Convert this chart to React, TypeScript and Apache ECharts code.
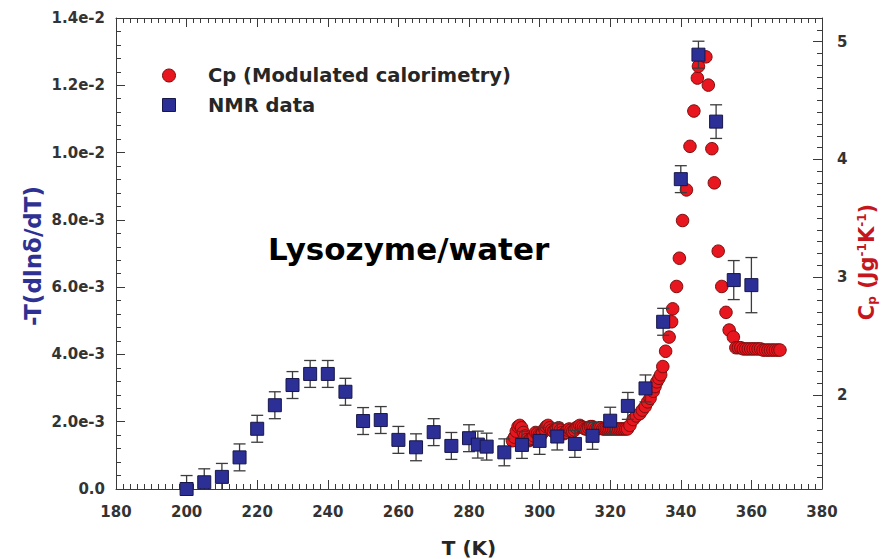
import React, { useEffect, useRef } from "react";
import * as echarts from "echarts";

// NMR data: temperature (K), -T(dlnδ/dT) value, error half-width
const nmrT = [200, 205, 210, 215, 220, 225, 230, 235, 240, 245, 250, 255, 260, 265, 270, 275, 280, 282.5, 285, 290, 295, 300, 305, 310, 315, 320, 325, 330, 335, 340, 345, 350, 355, 360];
const nmrV = [0.0, 0.0002, 0.00036, 0.00094, 0.00179, 0.00249, 0.00309, 0.00342, 0.00342, 0.00289, 0.00202, 0.00205, 0.00146, 0.00124, 0.00169, 0.00128, 0.00151, 0.00132, 0.00126, 0.00109, 0.00131, 0.00143, 0.00156, 0.00134, 0.00158, 0.00203, 0.00247, 0.00299, 0.00497, 0.00921, 0.01291, 0.01092, 0.00621, 0.00606];
const nmrErr = [0.0004, 0.0004, 0.0004, 0.0004, 0.0004, 0.0004, 0.0004, 0.0004, 0.0004, 0.0004, 0.0004, 0.0004, 0.0004, 0.0004, 0.0004, 0.0004, 0.0004, 0.0004, 0.0004, 0.0004, 0.0004, 0.0004, 0.0004, 0.0004, 0.0004, 0.0004, 0.0004, 0.0004, 0.0004, 0.0004, 0.0004, 0.0005, 0.00058, 0.00082];

// Cp (modulated calorimetry): [T (K), Cp (J g^-1 K^-1)]
const cpData: [number, number][] = [
  [292.3, 1.61], [292.9, 1.64], [293.4, 1.69], [293.9, 1.73], [294.4, 1.74], [294.9, 1.72], [295.4, 1.68], [295.9, 1.65],
  [296.4, 1.62], [296.9, 1.61], [297.4, 1.62], [297.9, 1.63], [298.4, 1.65], [298.9, 1.68], [299.4, 1.67], [299.9, 1.66],
  [300.4, 1.66], [300.9, 1.68], [301.4, 1.71], [301.9, 1.73], [302.4, 1.74], [302.9, 1.72], [303.4, 1.70], [303.9, 1.69],
  [304.4, 1.70], [304.9, 1.71], [305.4, 1.72], [305.9, 1.70], [306.4, 1.68], [306.9, 1.67], [307.4, 1.68], [307.9, 1.70],
  [308.4, 1.71], [308.9, 1.70], [309.4, 1.69], [309.9, 1.70], [310.4, 1.72], [310.9, 1.73], [311.4, 1.74], [311.9, 1.73],
  [312.4, 1.72], [312.9, 1.71], [313.4, 1.71], [313.9, 1.72], [314.4, 1.73], [314.9, 1.73], [315.4, 1.72], [315.9, 1.71],
  [316.4, 1.71], [316.9, 1.72], [317.4, 1.72], [317.9, 1.71], [318.4, 1.71], [318.9, 1.71], [319.4, 1.71], [319.9, 1.71],
  [320.4, 1.71], [320.9, 1.71], [321.4, 1.71], [321.9, 1.71], [322.4, 1.71], [322.9, 1.71], [323.4, 1.71], [323.9, 1.71],
  [324.4, 1.71], [324.9, 1.71], [325.6, 1.74], [326.5, 1.79], [327.4, 1.82], [328.4, 1.84], [329.1, 1.87], [329.9, 1.90],
  [330.6, 1.94], [331.3, 1.97], [332.2, 2.03], [332.7, 2.07], [333.2, 2.11], [333.8, 2.14], [334.3, 2.17], [334.9, 2.24],
  [335.7, 2.37], [336.7, 2.49], [337.4, 2.62], [337.7, 2.73], [338.8, 2.92], [339.6, 3.16], [340.5, 3.48], [341.6, 3.74],
  [342.6, 4.11], [343.7, 4.41], [344.7, 4.69], [345.0, 4.79], [347.1, 4.87], [347.8, 4.63], [348.8, 4.09], [349.5, 3.80],
  [350.6, 3.22], [351.6, 2.92], [352.8, 2.70], [353.7, 2.55], [354.9, 2.49], [355.6, 2.40], [356.3, 2.40], [357.0, 2.40],
  [357.7, 2.39], [358.4, 2.39], [359.1, 2.39], [359.8, 2.39], [360.5, 2.39], [361.2, 2.39], [361.9, 2.39], [362.6, 2.39],
  [363.3, 2.38], [364.0, 2.38], [364.7, 2.38], [365.4, 2.38], [366.1, 2.38], [366.8, 2.38], [367.5, 2.38], [368.1, 2.38],
];

const FONT = "'DejaVu Sans', sans-serif";
const AXIS_COLOR = "#3a3a3a";
const LABEL_COLOR = "#333333";
const RED = "#e8161e";
const BLUE = "#2c2f96";

const fmtSci = (v: number) => {
  if (Math.abs(v) < 1e-12) return "0.0";
  const e = Math.floor(Math.log10(v) + 1e-9);
  const m = v / Math.pow(10, e);
  return m.toFixed(1) + "e" + e;
};

export default function App() {
  const ref = useRef<HTMLDivElement>(null);
  useEffect(() => {
    if (!ref.current) return;
    const chart = echarts.init(ref.current, undefined, { renderer: "svg" });
    const labelStyle = { fontFamily: FONT, fontWeight: "bold" as const, fontSize: 15, color: LABEL_COLOR };
    const lineStyle = { color: AXIS_COLOR, width: 1 };
    const option: any = {
      animation: false,
      backgroundColor: "#ffffff",
      grid: { left: 116, right: 60, top: 18, bottom: 70, containLabel: false },
      xAxis: [
        {
          type: "value", min: 180, max: 380, interval: 20, position: "bottom",
          axisLine: { show: true, onZero: false, lineStyle },
          axisTick: { show: true, inside: true, length: 9, lineStyle },
          minorTick: { show: true, splitNumber: 10, length: 5, lineStyle },
          splitLine: { show: false },
          axisLabel: { ...labelStyle, margin: 15 },
        },
        {
          type: "value", min: 180, max: 380, interval: 20, position: "top",
          axisLine: { show: true, onZero: false, lineStyle },
          axisTick: { show: true, inside: true, length: 9, lineStyle },
          minorTick: { show: true, splitNumber: 10, length: 5, lineStyle },
          splitLine: { show: false },
          axisLabel: { show: false },
        },
      ],
      yAxis: [
        {
          type: "value", min: 0, max: 0.014, interval: 0.002, position: "left",
          axisLine: { show: true, onZero: false, lineStyle },
          axisTick: { show: true, inside: true, length: 9, lineStyle },
          minorTick: { show: true, splitNumber: 5, length: 5, lineStyle },
          splitLine: { show: false },
          axisLabel: { ...labelStyle, margin: 11, formatter: fmtSci },
        },
        {
          type: "value", min: 1.2, max: 5.2, interval: 0.1, position: "right",
          axisLine: { show: true, onZero: false, lineStyle },
          axisTick: { show: true, inside: true, length: 5, lineStyle },
          splitLine: { show: false },
          axisLabel: { show: false },
        },
        {
          type: "value", min: 1.2, max: 5.2, splitNumber: 4, position: "right",
          axisLine: { show: false },
          axisTick: { show: true, inside: true, length: 9, lineStyle },
          splitLine: { show: false },
          axisLabel: {
            ...labelStyle, margin: 15,
            formatter: (v: number) => (Math.abs(v - Math.round(v)) < 1e-6 ? String(Math.round(v)) : ""),
          },
        },
      ],
      series: [
        {
          name: "Cp (Modulated calorimetry)", type: "scatter", xAxisIndex: 0, yAxisIndex: 1,
          data: cpData, symbol: "circle", symbolSize: 12.5, clip: false, z: 2,
          itemStyle: { color: RED, borderColor: "#7a0f0f", borderWidth: 1, opacity: 1 },
        },
        {
          name: "errors", type: "custom", xAxisIndex: 0, yAxisIndex: 0, z: 3, clip: true,
          data: nmrT.map((t, i) => [t, nmrV[i] - nmrErr[i], nmrV[i] + nmrErr[i]]),
          encode: { x: 0, y: [1, 2] },
          renderItem: (_params: any, api: any) => {
            const x = api.value(0);
            const pLo = api.coord([x, api.value(1)]);
            const pHi = api.coord([x, api.value(2)]);
            const cap = 6;
            const style = { stroke: "#3c3c3c", lineWidth: 1.3 };
            return {
              type: "group",
              children: [
                { type: "line", shape: { x1: pLo[0], y1: pLo[1], x2: pHi[0], y2: pHi[1] }, style },
                { type: "line", shape: { x1: pHi[0] - cap, y1: pHi[1], x2: pHi[0] + cap, y2: pHi[1] }, style },
                { type: "line", shape: { x1: pLo[0] - cap, y1: pLo[1], x2: pLo[0] + cap, y2: pLo[1] }, style },
              ],
            };
          },
        },
        {
          name: "NMR data", type: "scatter", xAxisIndex: 0, yAxisIndex: 0,
          data: nmrT.map((t, i) => [t, nmrV[i]]), symbol: "rect", symbolSize: 13, clip: false, z: 4,
          itemStyle: { color: BLUE, borderColor: "#17174a", borderWidth: 1, opacity: 1 },
        },
      ],
      graphic: [
        { type: "circle", shape: { cx: 169, cy: 75.5, r: 6.5 }, style: { fill: RED, stroke: "#7a0f0f", lineWidth: 1 }, z: 10 },
        { type: "rect", shape: { x: 162.5, y: 98.5, width: 13, height: 13 }, style: { fill: BLUE, stroke: "#17174a", lineWidth: 1 }, z: 10 },
        {
          type: "text", x: 208, y: 75.5, z: 10,
          style: { text: "Cp (Modulated calorimetry)", font: `bold 19.5px ${FONT}`, fill: "#262626", align: "left", verticalAlign: "middle" },
        },
        {
          type: "text", x: 208, y: 105, z: 10,
          style: { text: "NMR data", font: `bold 19.5px ${FONT}`, fill: "#262626", align: "left", verticalAlign: "middle" },
        },
        {
          type: "text", x: 268, y: 249, z: 10,
          style: { text: "Lysozyme/water", font: `bold 31px ${FONT}`, fill: "#000000", align: "left", verticalAlign: "middle" },
        },
        {
          type: "text", x: 469, y: 548, z: 10,
          style: { text: "T (K)", font: `bold 20px ${FONT}`, fill: "#262626", align: "center", verticalAlign: "middle" },
        },
        {
          type: "text", x: 33, y: 256, rotation: Math.PI / 2, z: 10,
          style: { text: "-T(dlnδ/dT)", font: `bold 23px ${FONT}`, fill: "#2e3192", align: "center", verticalAlign: "middle" },
        },
        {
          type: "text", x: 867, y: 262, rotation: Math.PI / 2, z: 10,
          style: {
            text: "{m|C}{s|p}{m| (Jg}{u|-1}{m|K}{u|-1}{m|)}",
            fill: "#c4161c", align: "center", verticalAlign: "middle",
            rich: {
              m: { fontSize: 21, fontWeight: "bold", fontFamily: FONT, fill: "#c4161c", lineHeight: 22, verticalAlign: "middle" },
              s: { fontSize: 12, fontWeight: "bold", fontFamily: FONT, fill: "#c4161c", lineHeight: 10, verticalAlign: "bottom" },
              u: { fontSize: 12, fontWeight: "bold", fontFamily: FONT, fill: "#c4161c", lineHeight: 10, verticalAlign: "top" },
            },
          },
        },
      ],
    };
    chart.setOption(option);
    return () => chart.dispose();
  }, []);
  return (
    <div
      ref={ref}
      style={{ position: "fixed", left: 0, top: 0, width: 882, height: 559, background: "#ffffff" }}
    />
  );
}
